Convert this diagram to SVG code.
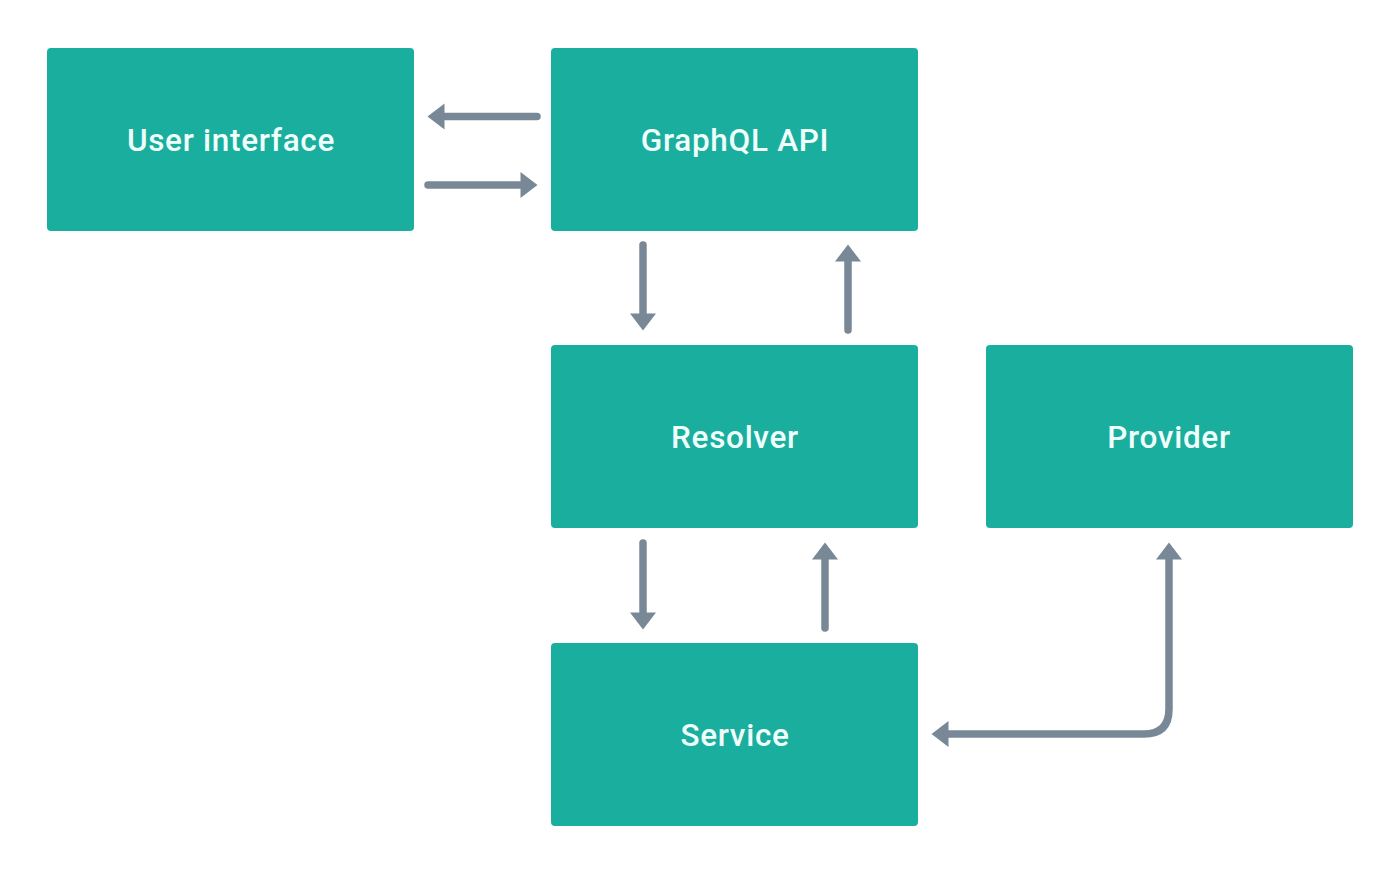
<svg xmlns="http://www.w3.org/2000/svg" width="1400" height="874" viewBox="0 0 1400 874">
<style>
.box{fill:#1aae9f}
.lbl{fill:#f0fffb;font-family:Roboto,"Liberation Sans",sans-serif;font-size:31.5px;font-weight:500;text-anchor:middle;dominant-baseline:central;letter-spacing:0.7px}
.conn{stroke:#788896;stroke-width:7.5;fill:none;stroke-linecap:round;marker-end:url(#ah)}
.both{marker-start:url(#ah)}
</style>
<defs>
<marker id="ah" markerUnits="userSpaceOnUse" viewBox="0 0 18 26" markerWidth="18" markerHeight="26" refX="0.5" refY="13" orient="auto-start-reverse" overflow="visible">
<path d="M0,0 L17,13 L0,26 Z" fill="#788896"/>
</marker>
</defs>
<rect width="1400" height="874" fill="#fff"/>
<g id="node-ui"><rect class="box" x="47" y="48" width="367" height="183" rx="4"/><text class="lbl" x="231" y="140">User interface</text></g>
<g id="node-graphql"><rect class="box" x="551" y="48" width="367" height="183" rx="4"/><text class="lbl" x="735" y="140">GraphQL API</text></g>
<g id="node-resolver"><rect class="box" x="551" y="345" width="367" height="183" rx="4"/><text class="lbl" x="735" y="437">Resolver</text></g>
<g id="node-provider"><rect class="box" x="986" y="345" width="367" height="183" rx="4"/><text class="lbl" x="1169" y="437">Provider</text></g>
<g id="node-service"><rect class="box" x="551" y="643" width="367" height="183" rx="4"/><text class="lbl" x="735" y="735">Service</text></g>
<g id="connectors">
<path class="conn" d="M537,116.5 L444,116.5"/>
<path class="conn" d="M428,185 L521,185"/>
<path class="conn" d="M643,245 L643,314"/>
<path class="conn" d="M848,330 L848,261"/>
<path class="conn" d="M643,543 L643,613"/>
<path class="conn" d="M825,628 L825,559"/>
<path class="conn both" d="M1169,559 L1169,709 Q1169,734 1144,734 L948,734"/>
</g>
</svg>
